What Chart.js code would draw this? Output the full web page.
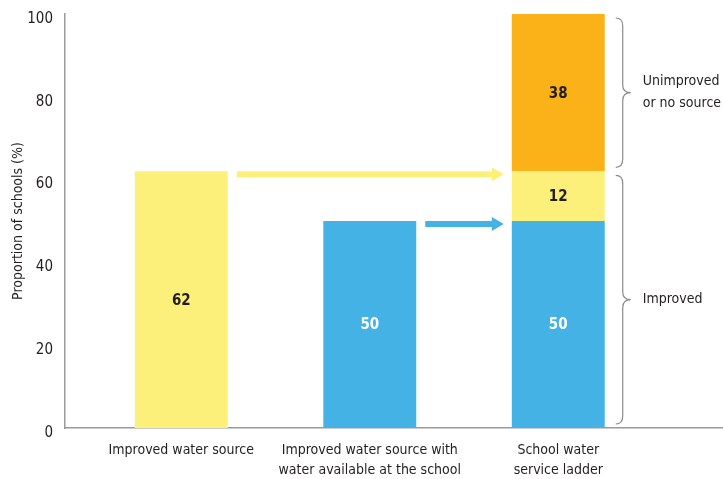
<!DOCTYPE html>
<html>
<head>
<meta charset="utf-8">
<script src="https://cdn.jsdelivr.net/npm/chart.js@4/dist/chart.umd.min.js"></script>
<style>
html,body{margin:0;padding:0;background:#fff;}
#wrap{width:723px;height:479px;position:relative;}
</style>
</head>
<body>
<div id="wrap"><canvas id="chart"></canvas></div>
<script>
// data
const categories=[["Improved water source"],["Improved water source with","water available at the school"],["School water","service ladder"]];
const blueShare=[null,50,50];
const yellowShare=[62,null,12];
const orangeShare=[null,null,38];
const yTicks=[0,20,40,60,80,100];

// braces on the right of the ladder bar
const braceFrom=[62,0];
const braceTo=[100,62];
const braceText=[["Unimproved","or no source"],["Improved"]];

// arrows pointing into the ladder bar
const arrowFrom=[0,1];
const arrowTo=[2,2];
const arrowValue=[62,50];

const BLUE="#45b2e6",YELLOW="#fdf07a",ORANGE="#fbb118",TEXT="#231f20";
const FONT="'DejaVu Sans Condensed','DejaVu Sans',sans-serif";
Chart.defaults.font.family=FONT;
Chart.defaults.font.size=14;
Chart.defaults.color=TEXT;

const labelColors=["#fff",TEXT,TEXT];
const arrowColors=[YELLOW,BLUE];

const extras={
  id:"extras",
  afterDatasetsDraw(chart){
    const c=chart.ctx;
    const x=chart.scales.x,y=chart.scales.y;
    // value labels
    c.save();
    c.font="bold 15px "+FONT;
    c.textAlign="center";
    c.textBaseline="middle";
    chart.data.datasets.forEach((ds,di)=>{
      const meta=chart.getDatasetMeta(di);
      meta.data.forEach((bar,i)=>{
        if(ds.data[i]==null)return;
        c.fillStyle=labelColors[di];
        c.fillText(ds.data[i],bar.x,(bar.y+bar.base)/2+1);
      });
    });
    c.restore();

    const half=chart.getDatasetMeta(0).data[1].width/2;

    // arrows
    arrowValue.forEach((v,i)=>{
      const x0=x.getPixelForValue(arrowFrom[i])+half+9;
      const x1=x.getPixelForValue(arrowTo[i])-half-8;
      const yy=y.getPixelForValue(v)+3;
      c.save();
      c.fillStyle=arrowColors[i];
      c.fillRect(x0,yy-3,x1-x0-10,6);
      c.beginPath();
      c.moveTo(x1-12,yy-7);
      c.lineTo(x1,yy);
      c.lineTo(x1-12,yy+7);
      c.closePath();
      c.fill();
      c.restore();
    });

    // braces
    const bx=x.getPixelForValue(2)+half+11;
    braceTo.forEach((top,i)=>{
      const yt=y.getPixelForValue(top)+4;
      const yb=y.getPixelForValue(braceFrom[i])-4;
      const ym=(yt+yb)/2;
      const w=15,r=8,xm=bx+7;
      c.save();
      c.strokeStyle="#8a8a8a";
      c.lineWidth=1.2;
      c.beginPath();
      c.moveTo(bx,yt);
      c.quadraticCurveTo(xm,yt,xm,yt+r);
      c.lineTo(xm,ym-r);
      c.quadraticCurveTo(xm,ym,bx+w,ym);
      c.quadraticCurveTo(xm,ym,xm,ym+r);
      c.lineTo(xm,yb-r);
      c.quadraticCurveTo(xm,yb,bx,yb);
      c.stroke();
      c.fillStyle=TEXT;
      c.font="14px "+FONT;
      c.textAlign="left";
      c.textBaseline="middle";
      const lines=braceText[i];
      lines.forEach((t,k)=>{
        c.fillText(t,bx+w+12,ym+(k-(lines.length-1)/2)*22);
      });
      c.restore();
    });
  }
};

new Chart(document.getElementById("chart"),{
  type:"bar",
  data:{
    labels:[0,1,2],
    datasets:[
      {label:"Improved, water available",data:blueShare,backgroundColor:BLUE},
      {label:"Improved source",data:yellowShare,backgroundColor:YELLOW},
      {label:"Unimproved or no source",data:orangeShare,backgroundColor:ORANGE}
    ]
  },
  options:{
    responsive:true,
    maintainAspectRatio:false,
    animation:false,
    categoryPercentage:1,
    barPercentage:0.493,
    layout:{padding:{top:14,right:0,left:0,bottom:0}},
    plugins:{legend:{display:false},tooltip:{enabled:false}},
    scales:{
      x:{
        type:"linear",
        stacked:true,
        offset:false,
        min:-0.617,
        max:2.874,
        grid:{display:false,drawTicks:false},
        border:{color:"#9a9a9a",width:1.5},
        afterBuildTicks:s=>{s.ticks=categories.map((c,i)=>({value:i}));},
        afterFit:s=>{s.height=51;s.paddingLeft=0;s.paddingRight=0;},
        ticks:{
          autoSkip:false,maxRotation:0,padding:13,
          font:{size:14,lineHeight:1.4},
          callback:v=>categories[v]
        }
      },
      y:{
        stacked:true,
        min:0,max:100,
        grid:{display:false,drawTicks:false},
        border:{color:"#9a9a9a",width:1.5},
        afterBuildTicks:s=>{s.ticks=yTicks.map(v=>({value:v}));},
        afterFit:s=>{s.width=65;s.paddingTop=0;s.paddingBottom=0;},
        ticks:{padding:12,labelOffset:5,font:{size:15}},
        title:{display:true,text:"Proportion of schools (%)",font:{size:14},padding:{top:10,bottom:0}}
      }
    }
  },
  plugins:[extras]
});
</script>
</body>
</html>
